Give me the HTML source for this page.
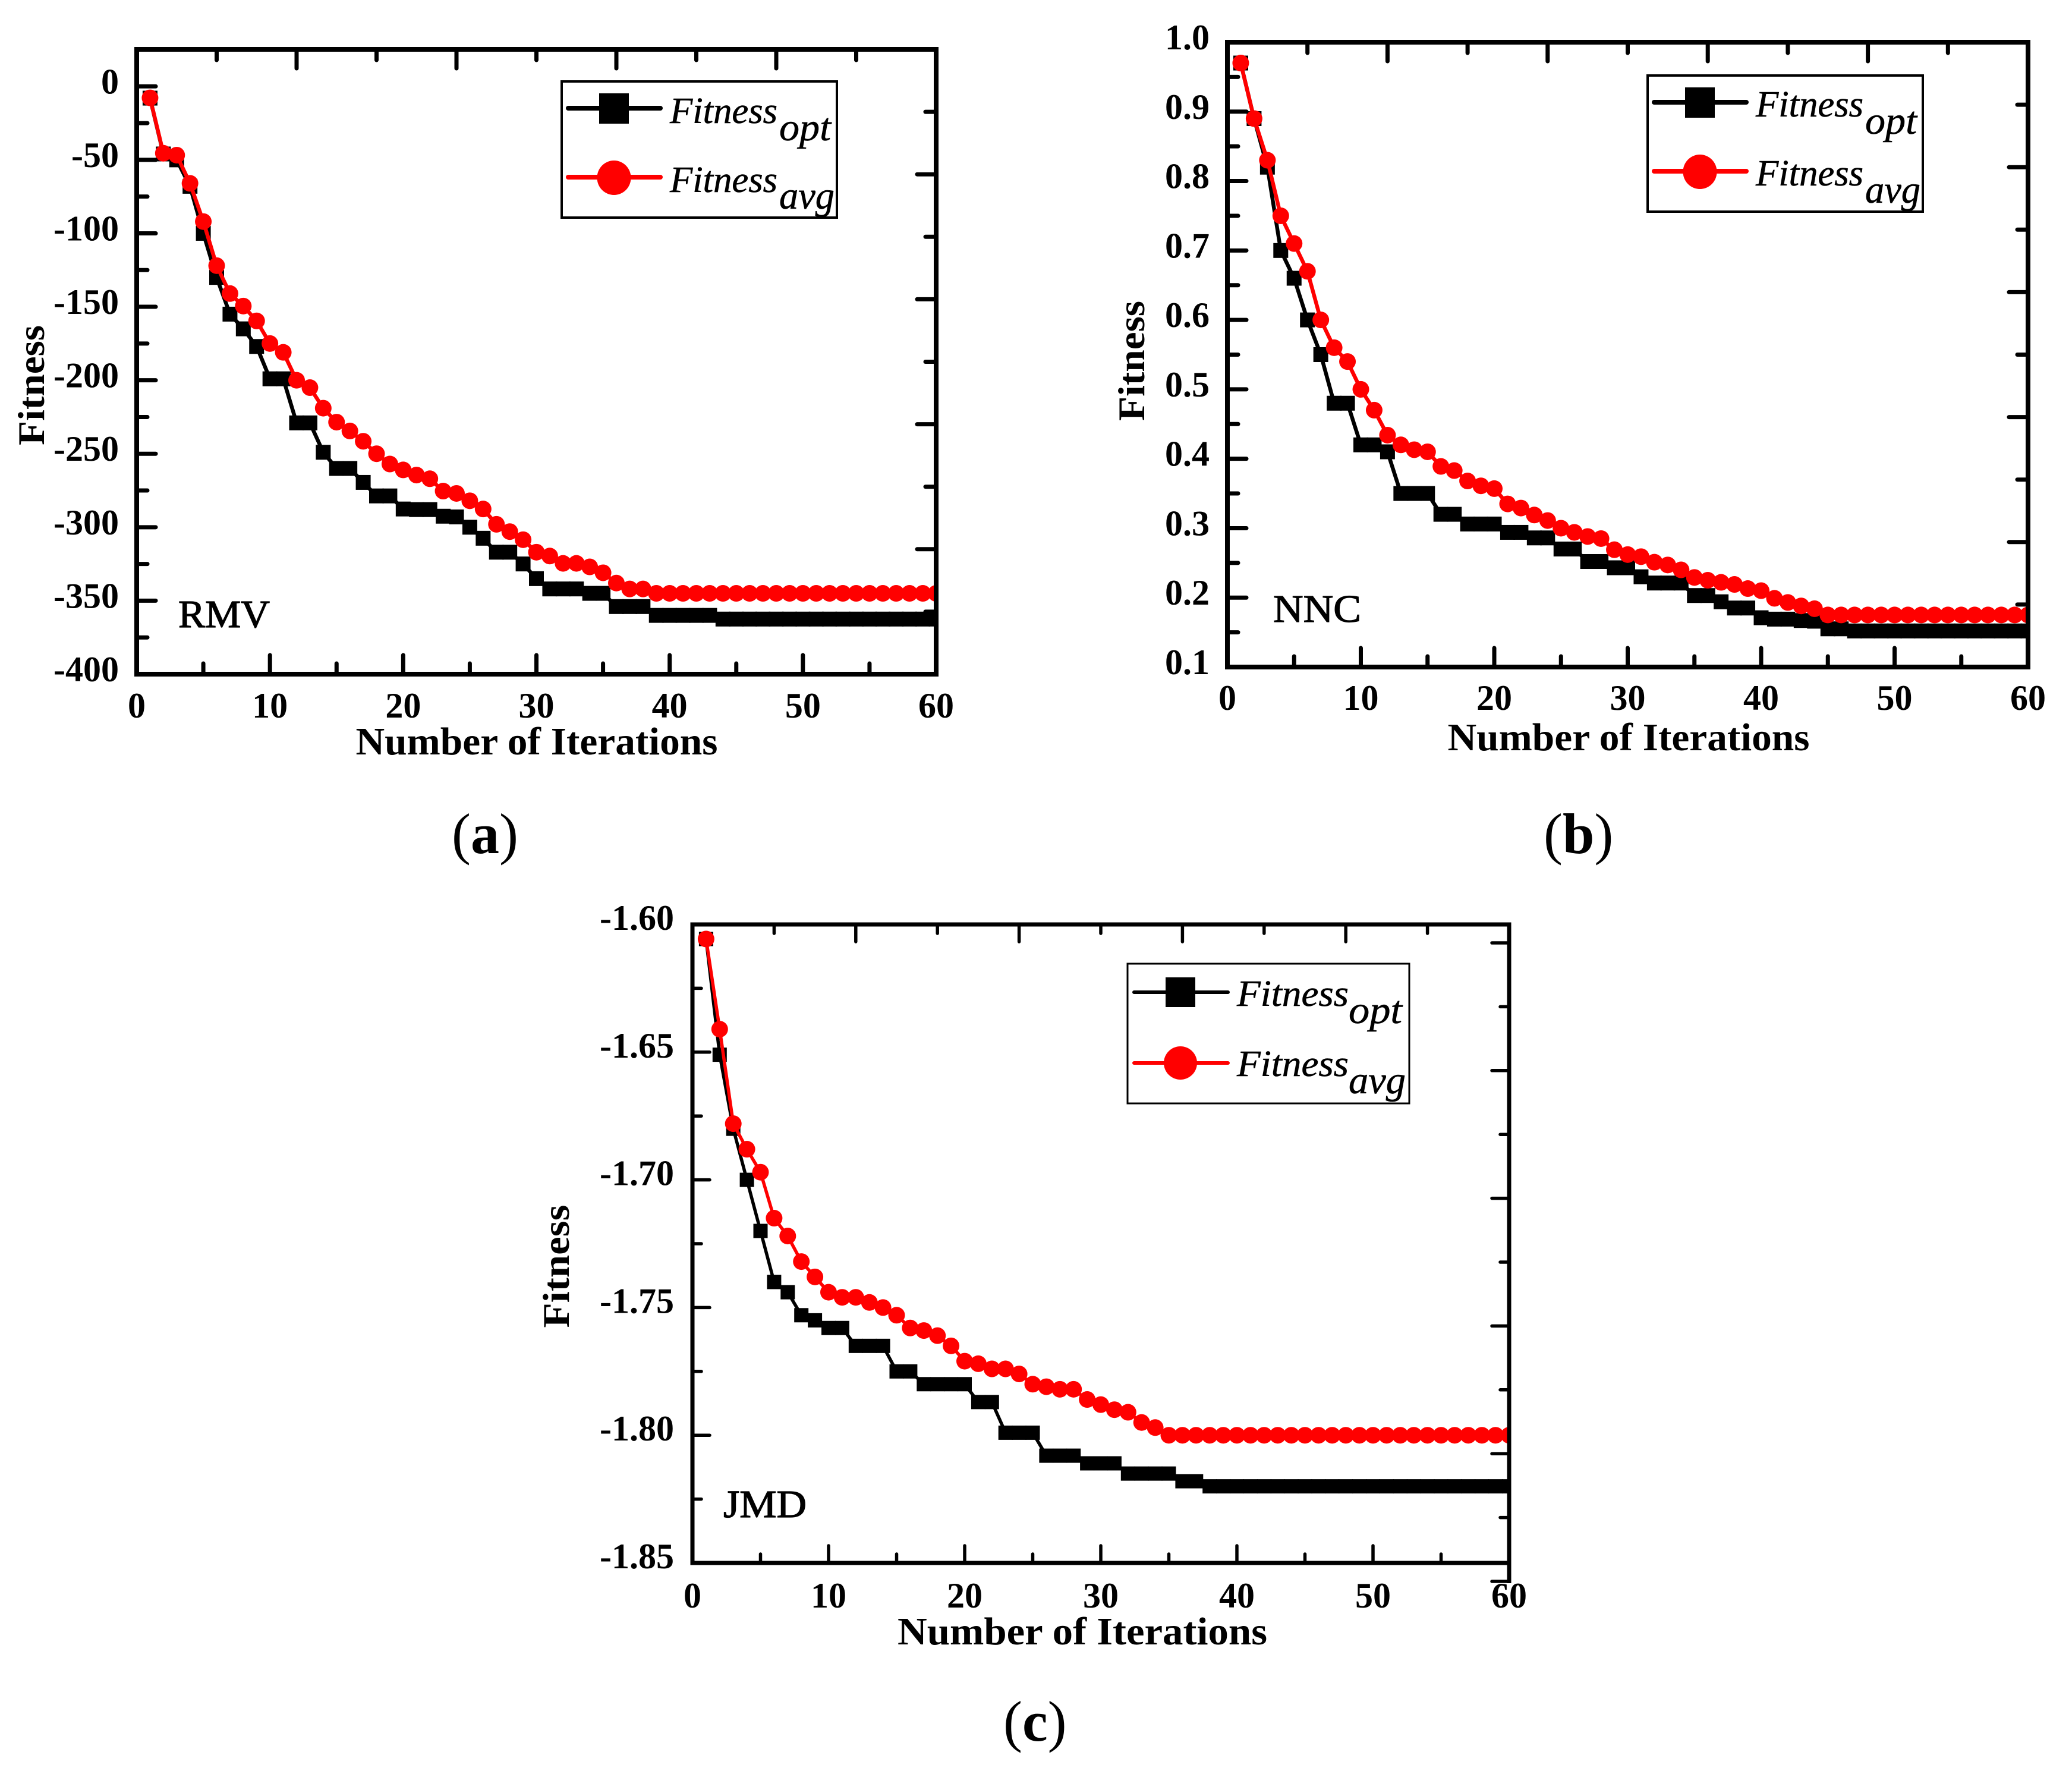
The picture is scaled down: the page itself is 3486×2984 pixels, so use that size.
<!DOCTYPE html>
<html lang="en">
<head>
<meta charset="utf-8">
<title>Fitness convergence charts</title>
<style>
html,body{margin:0;padding:0;background:#fff;}
svg{display:block;}
text{font-family:"Liberation Serif",serif;fill:#000;}
.tick{font-weight:bold;font-size:60px;}
.title{font-weight:bold;font-size:66px;}
.ititle{font-weight:bold;font-size:64px;}
.leg{font-style:italic;font-size:62px;stroke:#000;stroke-width:0.6px;}
.sub{font-style:italic;font-size:66px;stroke:#000;stroke-width:0.6px;}
.tag{font-size:66px;stroke:#000;stroke-width:1.2px;}
.panel{font-size:96px;}
</style>
</head>
<body>
<svg id="figure" xmlns="http://www.w3.org/2000/svg" width="3486" height="2984" viewBox="0 0 3486 2984">
<rect x="0" y="0" width="3486" height="2984" fill="#fff"/>
<defs>
<clipPath id="clip-a"><rect x="230" y="83" width="1345" height="1051"/></clipPath>
<clipPath id="clip-b"><rect x="2065" y="71" width="1347" height="1051"/></clipPath>
<clipPath id="clip-c"><rect x="1165" y="1555" width="1374" height="1074"/></clipPath>
</defs>

<g id="chart-a">
  <g id="marks-a" clip-path="url(#clip-a)"></g>
  <g id="ticks-a"></g>
  <rect x="230" y="83" width="1345" height="1051" fill="none" stroke="#000" stroke-width="8"/>
  <text class="title" x="903" y="1269" text-anchor="middle" textLength="609" lengthAdjust="spacingAndGlyphs">Number of Iterations</text>
  <text class="ititle" transform="translate(74 648) rotate(-90)" text-anchor="middle" textLength="202" lengthAdjust="spacingAndGlyphs">Fitness</text>
  <text class="tag" x="300" y="1055" textLength="154" lengthAdjust="spacingAndGlyphs">RMV</text>
  <g>
    <rect x="945" y="137" width="463" height="229" fill="#fff" stroke="#000" stroke-width="4"/>
    <line x1="956" y1="182" x2="1111" y2="182" stroke="#000" stroke-width="8" stroke-linecap="round"/>
    <rect x="1008" y="157" width="50" height="51" fill="#000"/>
    <line x1="956" y1="298" x2="1111" y2="298" stroke="#f00" stroke-width="8" stroke-linecap="round"/>
    <ellipse cx="1033" cy="299" rx="28.5" ry="29" fill="#f00"/>
    <text class="leg" x="1127" y="207" textLength="181" lengthAdjust="spacingAndGlyphs">Fitness</text>
    <text class="sub" x="1311" y="236" textLength="87" lengthAdjust="spacingAndGlyphs">opt</text>
    <text class="leg" x="1127" y="323" textLength="181" lengthAdjust="spacingAndGlyphs">Fitness</text>
    <text class="sub" x="1311" y="351" textLength="93" lengthAdjust="spacingAndGlyphs">avg</text>
  </g>
</g>

<g id="chart-b">
  <g id="marks-b" clip-path="url(#clip-b)"></g>
  <g id="ticks-b"></g>
  <rect x="2065" y="71" width="1347" height="1051" fill="none" stroke="#000" stroke-width="8"/>
  <text class="title" x="2740" y="1262" text-anchor="middle" textLength="609" lengthAdjust="spacingAndGlyphs">Number of Iterations</text>
  <text class="ititle" transform="translate(1925 607) rotate(-90)" text-anchor="middle" textLength="202" lengthAdjust="spacingAndGlyphs">Fitness</text>
  <text class="tag" x="2142" y="1046" textLength="148" lengthAdjust="spacingAndGlyphs">NNC</text>
  <g>
    <rect x="2772" y="127" width="463" height="229" fill="#fff" stroke="#000" stroke-width="4"/>
    <line x1="2783" y1="172" x2="2938" y2="172" stroke="#000" stroke-width="8" stroke-linecap="round"/>
    <rect x="2835" y="147" width="50" height="51" fill="#000"/>
    <line x1="2783" y1="288" x2="2938" y2="288" stroke="#f00" stroke-width="8" stroke-linecap="round"/>
    <ellipse cx="2860" cy="289" rx="28.5" ry="29" fill="#f00"/>
    <text class="leg" x="2954" y="196" textLength="181" lengthAdjust="spacingAndGlyphs">Fitness</text>
    <text class="sub" x="3138" y="225" textLength="87" lengthAdjust="spacingAndGlyphs">opt</text>
    <text class="leg" x="2954" y="312" textLength="181" lengthAdjust="spacingAndGlyphs">Fitness</text>
    <text class="sub" x="3138" y="341" textLength="93" lengthAdjust="spacingAndGlyphs">avg</text>
  </g>
</g>

<g id="chart-c">
  <g id="marks-c" clip-path="url(#clip-c)"></g>
  <g id="ticks-c"></g>
  <rect x="1165" y="1555" width="1374" height="1074" fill="none" stroke="#000" stroke-width="7"/>
  <line x1="2539" y1="2629" x2="2539" y2="2663" stroke="#000" stroke-width="7"/>
  <text class="title" x="1821" y="2766" text-anchor="middle" textLength="622" lengthAdjust="spacingAndGlyphs">Number of Iterations</text>
  <text class="ititle" transform="translate(957 2130) rotate(-90)" text-anchor="middle" textLength="207" lengthAdjust="spacingAndGlyphs">Fitness</text>
  <text class="tag" x="1217" y="2552" textLength="140" lengthAdjust="spacingAndGlyphs">JMD</text>
  <g>
    <rect x="1897" y="1621" width="474" height="235" fill="#fff" stroke="#000" stroke-width="3"/>
    <line x1="1908" y1="1669" x2="2066" y2="1669" stroke="#000" stroke-width="6" stroke-linecap="round"/>
    <rect x="1961" y="1644" width="50" height="50" fill="#000"/>
    <line x1="1908" y1="1788" x2="2066" y2="1788" stroke="#f00" stroke-width="6" stroke-linecap="round"/>
    <ellipse cx="1986" cy="1788" rx="28" ry="28" fill="#f00"/>
    <text class="leg" x="2081" y="1692" textLength="188" lengthAdjust="spacingAndGlyphs">Fitness</text>
    <text class="sub" x="2269" y="1721" textLength="90" lengthAdjust="spacingAndGlyphs">opt</text>
    <text class="leg" x="2081" y="1810" textLength="188" lengthAdjust="spacingAndGlyphs">Fitness</text>
    <text class="sub" x="2269" y="1839" textLength="96" lengthAdjust="spacingAndGlyphs">avg</text>
  </g>
</g>

<text class="panel" x="760" y="1435">(<tspan font-weight="bold">a</tspan>)</text>
<text class="panel" x="2597" y="1435">(<tspan font-weight="bold">b</tspan>)</text>
<text class="panel" x="1688" y="2928">(<tspan font-weight="bold">c</tspan>)</text>
</svg>

<script>
const xTickValues = [0, 10, 20, 30, 40, 50, 60];
const xTickLabels = ["0", "10", "20", "30", "40", "50", "60"];

const rmvOpt = [-8,-46,-50,-68,-100,-130,-155,-165,-177,-199,-199,-229,-229,-249,-260,-260,-269.5,-278.7,-278.7,-287.6,-288,-288,-292.5,-293,-300,-307.5,-317,-317,-325,-335,-342,-342,-342,-345,-345,-354,-354,-354,-360,-360,-360,-360,-360,-362.5,-362.5,-362.5,-362.5,-362.5,-362.5,-362.5,-362.5,-362.5,-362.5,-362.5,-362.5,-362.5,-362.5,-362.5,-362.5,-362.5];
const rmvAvg = [-7.8,-45.5,-46.8,-66,-92,-122,-141,-149.5,-159.6,-175,-181,-200,-205,-219,-228.5,-234.5,-241.5,-250,-257,-261,-264.5,-267,-275.4,-277,-282,-287.6,-298,-303,-308.5,-317,-319.6,-324.6,-324.6,-327,-331,-338,-342,-342,-345,-345,-345,-345,-345,-345,-345,-345,-345,-345,-345,-345,-345,-345,-345,-345,-345,-345,-345,-345,-345,-345];
const rmvYTicks = [0,-50,-100,-150,-200,-250,-300,-350,-400];
const rmvYLabels = ["0","-50","-100","-150","-200","-250","-300","-350","-400"];

const nncOpt = [0.97,0.89,0.82,0.70,0.66,0.60,0.55,0.48,0.48,0.42,0.42,0.41,0.35,0.35,0.35,0.32,0.32,0.306,0.306,0.306,0.294,0.294,0.286,0.286,0.27,0.27,0.252,0.252,0.243,0.243,0.23,0.221,0.221,0.221,0.203,0.203,0.194,0.185,0.185,0.171,0.169,0.169,0.167,0.166,0.155,0.155,0.152,0.152,0.152,0.152,0.152,0.152,0.152,0.152,0.152,0.152,0.152,0.152,0.152,0.152];
const nncAvg = [0.97,0.89,0.83,0.75,0.71,0.67,0.60,0.56,0.54,0.50,0.47,0.434,0.42,0.413,0.41,0.389,0.383,0.368,0.361,0.357,0.335,0.329,0.319,0.311,0.30,0.294,0.288,0.285,0.269,0.262,0.259,0.251,0.247,0.24,0.229,0.225,0.222,0.219,0.213,0.21,0.199,0.193,0.188,0.184,0.175,0.175,0.175,0.175,0.175,0.175,0.175,0.175,0.175,0.175,0.175,0.175,0.175,0.175,0.175,0.175];
const nncYTicks = [1.0,0.9,0.8,0.7,0.6,0.5,0.4,0.3,0.2,0.1];
const nncYLabels = ["1.0","0.9","0.8","0.7","0.6","0.5","0.4","0.3","0.2","0.1"];

const jmdOpt = [-1.6057,-1.651,-1.68,-1.70,-1.72,-1.74,-1.744,-1.753,-1.755,-1.758,-1.758,-1.765,-1.765,-1.765,-1.775,-1.775,-1.78,-1.78,-1.78,-1.78,-1.787,-1.787,-1.799,-1.799,-1.799,-1.808,-1.808,-1.808,-1.811,-1.811,-1.811,-1.815,-1.815,-1.815,-1.815,-1.818,-1.818,-1.82,-1.82,-1.82,-1.82,-1.82,-1.82,-1.82,-1.82,-1.82,-1.82,-1.82,-1.82,-1.82,-1.82,-1.82,-1.82,-1.82,-1.82,-1.82,-1.82,-1.82,-1.82,-1.82];
const jmdAvg = [-1.6057,-1.641,-1.678,-1.688,-1.697,-1.715,-1.722,-1.732,-1.738,-1.744,-1.746,-1.746,-1.748,-1.75,-1.753,-1.758,-1.759,-1.761,-1.765,-1.771,-1.772,-1.774,-1.774,-1.776,-1.78,-1.781,-1.782,-1.782,-1.786,-1.788,-1.79,-1.791,-1.795,-1.797,-1.80,-1.80,-1.80,-1.80,-1.80,-1.80,-1.80,-1.80,-1.80,-1.80,-1.80,-1.80,-1.80,-1.80,-1.80,-1.80,-1.80,-1.80,-1.80,-1.80,-1.80,-1.80,-1.80,-1.80,-1.80,-1.80];
const jmdYTicks = [-1.60,-1.65,-1.70,-1.75,-1.80,-1.85];
const jmdYLabels = ["-1.60","-1.65","-1.70","-1.75","-1.80","-1.85"];

const SVG_NS = 'http://www.w3.org/2000/svg';

function make(tag, attrs, parent) {
  const el = document.createElementNS(SVG_NS, tag);
  for (const k in attrs) el.setAttribute(k, attrs[k]);
  parent.appendChild(el);
  return el;
}

function drawChart(cfg) {
  const L = cfg.left, R = cfg.right, T = cfg.top, B = cfg.bottom;
  const xScale = v => L + (v / 60) * (R - L);
  const yScale = v => T + (cfg.yMax - v) / (cfg.yMax - cfg.yMin) * (B - T);
  const ticks = document.getElementById('ticks-' + cfg.id);
  const marks = document.getElementById('marks-' + cfg.id);

  function tick(x1, y1, x2, y2, name) {
    const el = make('line', {x1: x1, y1: y1, x2: x2, y2: y2, stroke: '#000', 'stroke-width': cfg.tickW, 'stroke-linecap': 'round'}, ticks);
    
    
  }

  xTickValues.forEach(function (v, i) {
    const x = xScale(v);
    if (i > 0 && i < xTickValues.length - 1) tick(x, B, x, B - cfg.major, cfg.name + '-x-tick');
    if (i < xTickValues.length - 1) tick(xScale(v + 5), B, xScale(v + 5), B - cfg.minor, cfg.name + '-x-minor-tick');
    const t = make('text', {x: x, y: cfg.xLabelY, 'text-anchor': 'middle', 'class': 'tick'}, ticks);
    
    
    t.textContent = xTickLabels[i];
  });

  cfg.yTicks.forEach(function (v, i) {
    const y = yScale(v);
    if (v !== cfg.yMin && v !== cfg.yMax) tick(L, y, L + cfg.major, y, cfg.name + '-y-tick');
    const step = cfg.yTicks.length > 1 ? (cfg.yTicks[0] - cfg.yTicks[1]) / 2 : 0;
    const minorValue = v - step;
    if (i < cfg.yTicks.length - 1) tick(L, yScale(minorValue), L + cfg.minor, yScale(minorValue), cfg.name + '-y-minor-tick');
    const t = make('text', {x: cfg.yLabelX, y: y + cfg.yLabelDy, 'text-anchor': 'end', 'class': 'tick'}, ticks);
    
    
    t.textContent = cfg.yLabels[i];
  });

  for (let k = 1; k <= 9; k++) {
    const x = L + (R - L) * k / 10;
    const len = k % 2 === 0 ? cfg.major : cfg.minor;
    tick(x, T, x, T + len, cfg.name + '-top-tick');
  }
  for (let k = cfg.rightStart; k <= cfg.rightEnd; k++) {
    const y = T + cfg.rightOffset + (B - T) * k / 10;
    const len = k % 2 === 0 ? cfg.major : cfg.minor;
    tick(R, y, R - len, y, cfg.name + '-right-tick');
  }

  function polyPoints(values) {
    return values.map(function (v, i) { return xScale(i + 1) + ',' + yScale(v); }).join(' ');
  }

  const optLine = make('polyline', {points: polyPoints(cfg.opt), fill: 'none', stroke: '#000', 'stroke-width': cfg.lineW}, marks);
  
  
  cfg.opt.forEach(function (v, i) {
    const s = cfg.square;
    const r = make('rect', {x: xScale(i + 1) - s / 2, y: yScale(v) - s / 2, width: s, height: s, fill: '#000'}, marks);
    
    
  });

  const avgLine = make('polyline', {points: polyPoints(cfg.avg), fill: 'none', stroke: '#f00', 'stroke-width': cfg.lineW}, marks);
  
  
  cfg.avg.forEach(function (v, i) {
    const c = make('circle', {cx: xScale(i + 1), cy: yScale(v), r: cfg.radius, fill: '#f00'}, marks);
    
    
  });
}

drawChart({id: 'a', name: 'rmv', left: 230, right: 1575, top: 83, bottom: 1134, yMax: 25.2, yMin: -400,
  opt: rmvOpt, avg: rmvAvg, yTicks: rmvYTicks, yLabels: rmvYLabels, xLabelY: 1207, yLabelX: 200, yLabelDy: 12,
  frame: 8, tickW: 7, major: 32, minor: 18, lineW: 6.5, square: 25, radius: 14, rightOffset: 0, rightStart: 1, rightEnd: 9});

drawChart({id: 'b', name: 'nnc', left: 2065, right: 3412, top: 71, bottom: 1122, yMax: 1.0, yMin: 0.1,
  opt: nncOpt, avg: nncAvg, yTicks: nncYTicks, yLabels: nncYLabels, xLabelY: 1194, yLabelX: 2035, yLabelDy: 12,
  frame: 8, tickW: 7, major: 32, minor: 18, lineW: 6.5, square: 25, radius: 14, rightOffset: 0, rightStart: 1, rightEnd: 9});

drawChart({id: 'c', name: 'jmd', left: 1165, right: 2539, top: 1555, bottom: 2629, yMax: -1.6, yMin: -1.85,
  opt: jmdOpt, avg: jmdAvg, yTicks: jmdYTicks, yLabels: jmdYLabels, xLabelY: 2704, yLabelX: 1134, yLabelDy: 9,
  frame: 7, tickW: 5.5, major: 29, minor: 15, lineW: 5.5, square: 24, radius: 14, rightOffset: 31, rightStart: 0, rightEnd: 10});
</script>
</body>
</html>
